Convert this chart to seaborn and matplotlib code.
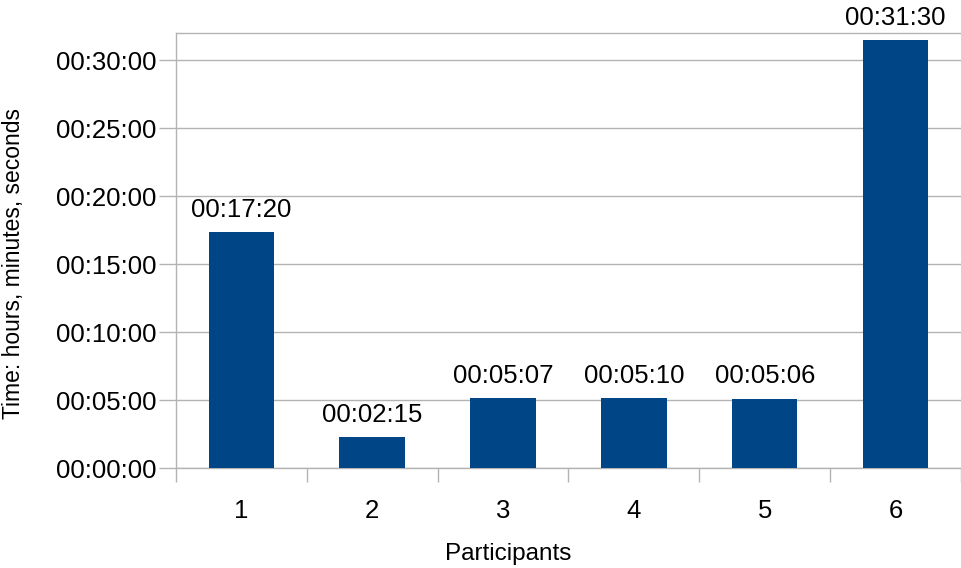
import pandas as pd
import numpy as np
import seaborn as sns
import matplotlib.pyplot as plt
from matplotlib.ticker import FuncFormatter, MultipleLocator, FixedLocator

participants = ["1", "2", "3", "4", "5", "6"]
times = ["00:17:20", "00:02:15", "00:05:07", "00:05:10", "00:05:06", "00:31:30"]


def to_seconds(t):
    h, m, s = [int(v) for v in t.split(":")]
    return h * 3600 + m * 60 + s


def fmt_time(sec, pos=None):
    sec = int(round(sec))
    return f"{sec // 3600:02d}:{(sec % 3600) // 60:02d}:{sec % 60:02d}"


df = pd.DataFrame({"participant": participants, "seconds": [to_seconds(t) for t in times]})

sns.set_style("white")
plt.rcParams["font.family"] = ["Liberation Sans", "DejaVu Sans"]
plt.rcParams["text.color"] = "black"
plt.rcParams["axes.labelcolor"] = "black"
plt.rcParams["xtick.color"] = "black"
plt.rcParams["ytick.color"] = "black"

fig = plt.figure(figsize=(9.61, 5.68), dpi=100)
ax = fig.add_axes([0.183, 0.176, 0.817, 0.766])

sns.barplot(data=df, x="participant", y="seconds", color="#004586", width=0.5,
            saturation=1, ax=ax, zorder=3, linewidth=0)

ax.set_xlim(-0.5, 5.5)
ax.set_ylim(0, 1920)
ax.yaxis.set_major_locator(MultipleLocator(300))
ax.yaxis.set_major_formatter(FuncFormatter(fmt_time))
ax.grid(axis="y", color="#b3b3b3", linewidth=1, zorder=0)
ax.set_axisbelow(True)

# category separators as ticks on the x axis
ax.xaxis.set_minor_locator(FixedLocator(np.arange(-0.5, 6, 1)))
ax.tick_params(axis="x", which="both", bottom=True)
ax.tick_params(axis="y", which="both", left=True)
ax.tick_params(axis="x", which="major", length=0, pad=22, labelsize=18.5)
ax.tick_params(axis="x", which="minor", length=10, width=1, color="#b3b3b3")
ax.tick_params(axis="y", which="major", length=12, width=1, color="#b3b3b3",
               labelcolor="black", labelsize=18.5, pad=2)

for side in ["left", "bottom", "top"]:
    ax.spines[side].set_visible(True)
    ax.spines[side].set_color("#b3b3b3")
    ax.spines[side].set_linewidth(1)
ax.spines["right"].set_visible(False)

for i, t in enumerate(times):
    ax.text(i, df["seconds"][i] + 45, t, ha="center", va="bottom", fontsize=18.5, color="black")

ax.set_xlabel("Participants", fontsize=17.5)
ax.set_ylabel("Time: hours, minutes, seconds", fontsize=16.5)
ax.xaxis.set_label_coords(0.423, -0.172)
ax.yaxis.set_label_coords(-0.192, 0.47)

fig.savefig("out.png", dpi=100)
